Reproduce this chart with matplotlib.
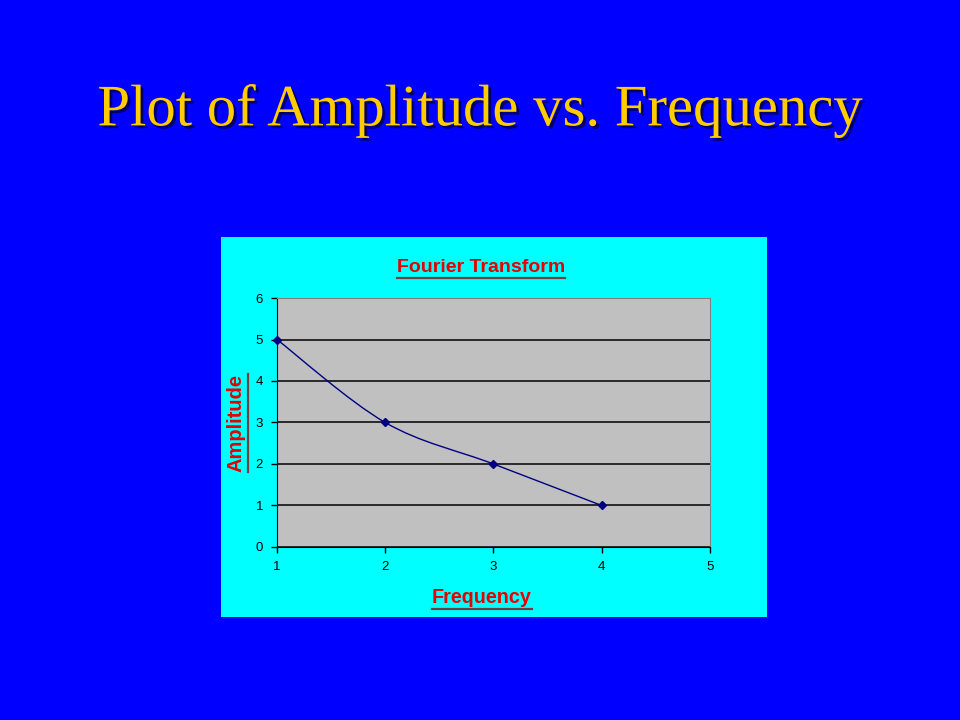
import matplotlib
matplotlib.use('Agg')
import matplotlib.pyplot as plt
import matplotlib.patheffects as pe
from matplotlib.path import Path
from matplotlib.patches import PathPatch

# chart data
frequency = [1, 2, 3, 4]
amplitude = [5, 3, 2, 1]
x_ticks = [1, 2, 3, 4, 5]
y_ticks = [0, 1, 2, 3, 4, 5, 6]

slide_title = 'Plot of Amplitude vs. Frequency'
chart_title = 'Fourier Transform'
x_label = 'Frequency'
y_label = 'Amplitude'

BLUE = '#0000FF'
CYAN = '#00FFFF'
GRAY = '#C0C0C0'
NAVY = '#000080'
RED = '#E80000'
YELLOW = '#FFCC00'


def smooth_path(xs, ys, t=1 / 6):
    # Bezier segments through the points (Excel-style smoothed line)
    verts = [(xs[0], ys[0])]
    codes = [Path.MOVETO]
    n = len(xs)
    for i in range(n - 1):
        x0, y0 = xs[max(i - 1, 0)], ys[max(i - 1, 0)]
        x1, y1 = xs[i], ys[i]
        x2, y2 = xs[i + 1], ys[i + 1]
        x3, y3 = xs[min(i + 2, n - 1)], ys[min(i + 2, n - 1)]
        c1 = (x1 + (x2 - x0) * t, y1 + (y2 - y0) * t)
        c2 = (x2 - (x3 - x1) * t, y2 - (y3 - y1) * t)
        verts += [c1, c2, (x2, y2)]
        codes += [Path.CURVE4] * 3
    return Path(verts, codes)


def underline(fig, txt, color, lw=1.6, pad=2):
    # draw a line under a text object (matplotlib has no underline style)
    r = fig.canvas.get_renderer()
    bb = txt.get_window_extent(r).transformed(fig.transFigure.inverted())
    if txt.get_rotation() == 90:
        x = bb.x1 + pad / fig.bbox.width
        fig.add_artist(plt.Line2D([x, x], [bb.y0, bb.y1], color=color,
                                  lw=lw, transform=fig.transFigure))
    else:
        y = bb.y0 - pad / fig.bbox.height
        fig.add_artist(plt.Line2D([bb.x0, bb.x1], [y, y], color=color,
                                  lw=lw, transform=fig.transFigure))


fig = plt.figure(figsize=(9.6, 7.2), dpi=100, facecolor=BLUE)

# slide title
fig.text(0.5, 0.846, slide_title, ha='center', va='center',
         family='Liberation Serif', fontsize=42.3, color=YELLOW,
         path_effects=[pe.withSimplePatchShadow(offset=(2, -2),
                                                shadow_rgbFace='#000040',
                                                alpha=0.8)])

# cyan chart panel
panel = fig.add_axes([0.2302, 0.1431, 0.56875, 0.5278])
panel.set_facecolor(CYAN)
panel.set_xticks([])
panel.set_yticks([])
for s in panel.spines.values():
    s.set_visible(False)

ax = fig.add_axes([0.2885, 0.2403, 0.4510, 0.3458])
ax.set_facecolor(GRAY)
ax.set_xlim(1, 5)
ax.set_ylim(0, 6)
ax.set_xticks(x_ticks)
ax.set_yticks(y_ticks)
ax.tick_params(direction='out', length=4, width=1, colors='black',
               labelsize=9.5, pad=6)
for lab in ax.get_xticklabels() + ax.get_yticklabels():
    lab.set_family('Liberation Sans')
ax.grid(axis='y', color='black', lw=1.1)
ax.set_axisbelow(True)
ax.spines['left'].set_color('black')
ax.spines['bottom'].set_color('black')
ax.spines['top'].set_color('#808080')
ax.spines['right'].set_color('#808080')

ax.add_patch(PathPatch(smooth_path(frequency, amplitude), facecolor='none',
                       edgecolor=NAVY, lw=1, zorder=3))
ax.plot(frequency, amplitude, ls='none', marker='D', ms=4, color=NAVY,
        zorder=4, clip_on=False)

font = dict(family='Liberation Sans', weight='bold', color=RED)
t1 = fig.text(0.501, 0.629, chart_title, ha='center', va='center',
              fontsize=14, **font)
t2 = fig.text(0.502, 0.170, x_label, ha='center', va='center',
              fontsize=14.2, **font)
t3 = fig.text(0.246, 0.4125, y_label, ha='center', va='center',
              rotation=90, fontsize=14.5, **font)
fig.canvas.draw()
for t in (t1, t2, t3):
    underline(fig, t, '#704040')

fig.savefig('out.png', dpi=100, facecolor=BLUE)
